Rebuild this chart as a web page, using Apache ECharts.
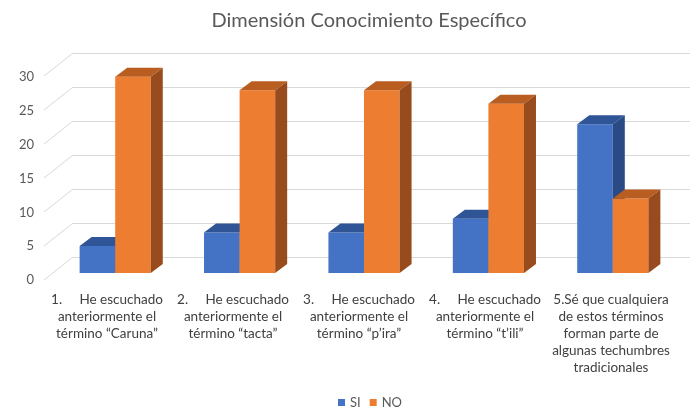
<!DOCTYPE html>
<html><head><meta charset="utf-8">
<script src="https://cdn.jsdelivr.net/npm/echarts@6/dist/echarts.min.js"></script>
<style>html,body{margin:0;padding:0;background:#fff}#c{width:695px;height:409px}</style>
</head><body><div id="c"></div>
<script>
const categories = [
  "1.\u00a0\u00a0\u00a0\u00a0\u00a0He escuchado\nanteriormente el\ntérmino “Caruna”",
  "2.\u00a0\u00a0\u00a0\u00a0\u00a0He escuchado\nanteriormente el\ntérmino “tacta”",
  "3.\u00a0\u00a0\u00a0\u00a0\u00a0He escuchado\nanteriormente el\ntérmino “p’ira”",
  "4.\u00a0\u00a0\u00a0\u00a0\u00a0He escuchado\nanteriormente el\ntérmino “t’ili”",
  "5.Sé que cualquiera\nde estos términos\nforman parte de\nalgunas techumbres\ntradicionales"
];
const siValues = [4, 6, 6, 8, 22];
const noValues = [29, 27, 27, 25, 11];
const yTicks = [0, 5, 10, 15, 20, 25, 30];

const FONT = 'Lato';
const BAR_DX = 12, BAR_DY = 9;    // bar depth offset
const WALL_DX = 29, WALL_DY = 23; // floor depth (front plane -> back wall)

function barRender(which, colors) {
  return function (params, api) {
    const idx = api.value(0), val = api.value(1);
    const band = api.size([1, 0])[0];
    const bw = band * 0.286;
    const top = api.coord([idx, val]);
    const base = api.coord([idx, 0]);
    const x0 = which === 0 ? top[0] - bw : top[0];
    const y1 = top[1], yb = base[1];
    return {
      type: 'group',
      children: [
        { type: 'rect', shape: { x: x0, y: y1, width: bw, height: yb - y1 }, style: { fill: colors[0] } },
        { type: 'polygon', shape: { points: [[x0, y1], [x0 + BAR_DX, y1 - BAR_DY], [x0 + bw + BAR_DX, y1 - BAR_DY], [x0 + bw, y1]] }, style: { fill: colors[1] } },
        { type: 'polygon', shape: { points: [[x0 + bw, y1], [x0 + bw + BAR_DX, y1 - BAR_DY], [x0 + bw + BAR_DX, yb - BAR_DY], [x0 + bw, yb]] }, style: { fill: colors[2] } }
      ]
    };
  };
}

const chart = echarts.init(document.getElementById('c'), null, { renderer: 'canvas' });
chart.setOption({
  animation: false,
  backgroundColor: '#fff',
  title: {
    text: 'Dimensión Conocimiento Específico',
    left: 364, top: 6, textAlign: 'center',
    textStyle: { fontFamily: FONT, fontSize: 20, fontWeight: 'normal', color: '#595959' }
  },
  legend: {
    data: ['SI', 'NO'],
    left: 333, top: 391,
    icon: 'rect', itemWidth: 7, itemHeight: 7, itemGap: 9,
    textStyle: { fontFamily: FONT, fontSize: 13, color: '#595959' }
  },
  grid: [
    { left: 73, right: 5, top: 53, height: 204 },   // back wall
    { left: 53, width: 622, top: 70, height: 203 }, // bar front faces
    { left: 44, width: 10, top: 77, height: 203 },  // front plane (value labels)
    { left: 44, width: 630, top: 70, height: 203 }  // category labels
  ],
  xAxis: [
    { gridIndex: 0, type: 'category', data: categories, show: false },
    { gridIndex: 1, type: 'category', data: categories, show: false },
    { gridIndex: 2, type: 'category', data: categories, show: false },
    { gridIndex: 3, type: 'category', data: categories,
      axisLine: { show: false }, axisTick: { show: false },
      axisLabel: { interval: 0, margin: 18, fontFamily: FONT, fontSize: 13.5, lineHeight: 17, color: '#404040', align: 'center' } }
  ],
  yAxis: [
    { gridIndex: 0, type: 'value', min: 0, max: 30, interval: 5,
      axisLabel: { show: false }, axisLine: { show: false }, axisTick: { show: false },
      splitLine: { lineStyle: { color: '#d9d9d9', width: 1 } } },
    { gridIndex: 1, type: 'value', min: 0, max: 30, interval: 5, show: false },
    { gridIndex: 2, type: 'value', min: 0, max: 30, interval: 5,
      axisLine: { show: false }, axisTick: { show: false }, splitLine: { show: false },
      axisLabel: { margin: 10, fontFamily: FONT, fontSize: 13, color: '#595959' } },
    { gridIndex: 3, type: 'value', min: 0, max: 30, interval: 5, show: false }
  ],
  series: [
    {
      name: 'walls', type: 'custom', xAxisIndex: 0, yAxisIndex: 0, silent: true,
      data: yTicks.map(v => [0, v]),
      renderItem: function (params, api) {
        const cs = params.coordSys;
        const y = api.coord([0, api.value(1)])[1];
        return { type: 'line', shape: { x1: cs.x - WALL_DX, y1: y + WALL_DY, x2: cs.x, y2: y },
          style: { stroke: '#d9d9d9', lineWidth: 1 } };
      }
    },
    {
      name: 'SI', type: 'custom', xAxisIndex: 1, yAxisIndex: 1,
      itemStyle: { color: '#4472C4' },
      data: siValues.map((v, i) => [i, v]),
      renderItem: barRender(0, ['#4472C4', '#2F5597', '#294A85'])
    },
    {
      name: 'NO', type: 'custom', xAxisIndex: 1, yAxisIndex: 1,
      itemStyle: { color: '#ED7D31' },
      data: noValues.map((v, i) => [i, v]),
      renderItem: barRender(1, ['#ED7D31', '#BA5D20', '#984C1D'])
    }
  ]
});
</script></body></html>
